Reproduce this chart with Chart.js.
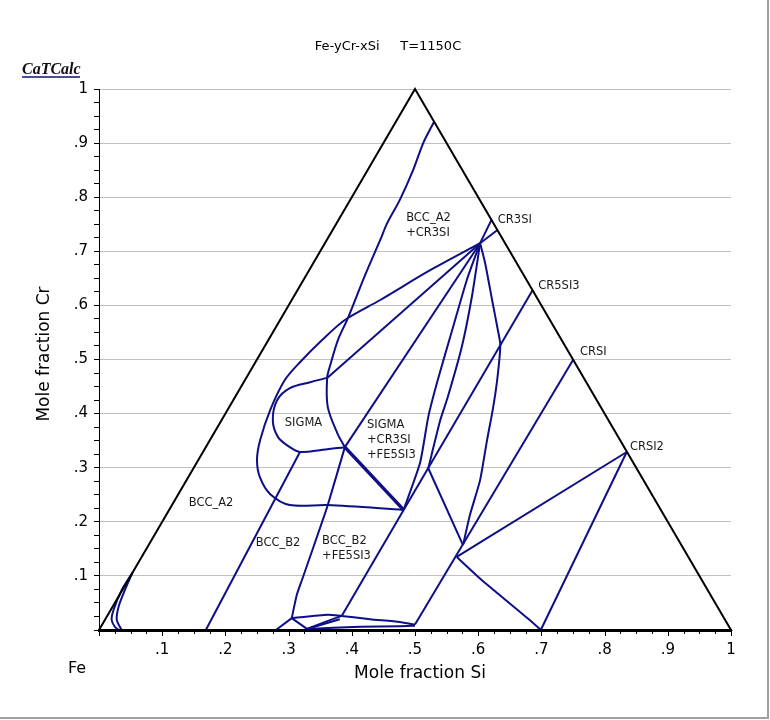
<!DOCTYPE html>
<html>
<head>
<meta charset="utf-8">
<title>Fe-yCr-xSi T=1150C</title>
<script src="https://cdn.jsdelivr.net/npm/chart.js@4/dist/chart.umd.min.js"></script>
<style>
  html, body { margin: 0; padding: 0; background: #fff; }
  #wrap { width: 770px; height: 720px; }
</style>
</head>
<body>
<div id="wrap"><canvas id="phase" width="770" height="720"></canvas></div>
<script>
// Fe-Cr-Si isothermal section, 1150C (CaTCalc style ternary plot)
// every point is [x, y] read on the chart axes: x = Si axis, y = mole fraction Cr

const triangle = [[0, 0], [1, 0], [0.5, 1], [0, 0]];

// small loops next to the Fe corner
const feSideA = [[0.053, 0.106], [0.036, 0.074], [0.023, 0.037], [0.020, 0.019], [0.025, 0.006], [0.031, 0]];
const feSideB = [[0.053, 0.106], [0.041, 0.074], [0.031, 0.043], [0.028, 0.019], [0.033, 0.006], [0.036, 0]];

const bccBoundary = [[0.169, 0], [0.318, 0.329]];

const outerLoop = [[0.603, 0.715], [0.524, 0.665], [0.445, 0.610], [0.389, 0.573], [0.353, 0.536],
  [0.318, 0.495], [0.294, 0.462], [0.271, 0.407], [0.255, 0.351], [0.250, 0.314], [0.255, 0.281],
  [0.271, 0.251], [0.302, 0.231], [0.362, 0.231], [0.482, 0.222]];

const topBoundary = [[0.530, 0.939], [0.513, 0.900], [0.497, 0.850], [0.476, 0.795], [0.456, 0.752],
  [0.445, 0.721], [0.421, 0.656], [0.394, 0.577], [0.378, 0.536], [0.366, 0.490], [0.361, 0.466],
  [0.362, 0.412], [0.377, 0.364], [0.389, 0.338]];

const sigmaLoop = [[0.361, 0.466], [0.334, 0.458], [0.302, 0.447], [0.282, 0.425], [0.275, 0.388],
  [0.283, 0.357], [0.302, 0.338], [0.318, 0.329], [0.354, 0.333], [0.389, 0.338]];

const lowerBoundary = [[0.389, 0.338], [0.362, 0.231], [0.354, 0.203], [0.321, 0.092], [0.313, 0.065], [0.305, 0.022]];

// tie lines meeting near Cr3Si
const cr3siTieA = [[0.621, 0.758], [0.603, 0.715]];
const cr3siTieB = [[0.630, 0.739], [0.603, 0.715]];
const sigmaTieTop = [[0.603, 0.715], [0.361, 0.466]];
const sigmaTie = [[0.603, 0.715], [0.389, 0.338]];
const threePhaseEdge = [[0.389, 0.338], [0.482, 0.222]];

const lineA = [[0.603, 0.715], [0.582, 0.647], [0.559, 0.555], [0.536, 0.462], [0.521, 0.394], [0.508, 0.309], [0.482, 0.222]];
const lineB = [[0.603, 0.715], [0.590, 0.616], [0.574, 0.523], [0.552, 0.431], [0.540, 0.388], [0.521, 0.299]];
const lineC = [[0.603, 0.715], [0.611, 0.678], [0.622, 0.610], [0.631, 0.555], [0.635, 0.527], [0.630, 0.462],
  [0.623, 0.407], [0.614, 0.351], [0.603, 0.277], [0.587, 0.213], [0.576, 0.157]];

const cr5si3Tie = [[0.686, 0.628], [0.482, 0.222]];
const crsiTie = [[0.750, 0.499], [0.500, 0.010]];
const midLink = [[0.521, 0.299], [0.576, 0.157]];
const crsi2TieA = [[0.835, 0.329], [0.566, 0.135]];
const crsi2TieB = [[0.835, 0.329], [0.699, 0]];
const lowerRight = [[0.566, 0.135], [0.606, 0.092], [0.682, 0.018], [0.699, 0]];

// small phase fields along the Fe-Si edge
const j1Left = [[0.305, 0.022], [0.280, 0]];
const j1Right = [[0.305, 0.022], [0.329, 0.002]];
const j1Top = [[0.305, 0.022], [0.362, 0.028], [0.384, 0.026]];
const fe5si3Edge = [[0.482, 0.222], [0.384, 0.026]];
const j3Down = [[0.384, 0.026], [0.358, 0.015], [0.329, 0.002]];
const j3Right = [[0.384, 0.026], [0.429, 0.020], [0.476, 0.015], [0.500, 0.010]];
const j2Right = [[0.329, 0.002], [0.413, 0.006], [0.476, 0.007], [0.500, 0.008]];
const j2Upper = [[0.329, 0.002], [0.381, 0.020]];

const phaseLabels = [
  [['BCC_A2', '+CR3SI'], 0.486, 0.762],
  [['CR3SI'], 0.631, 0.758],
  [['CR5SI3'], 0.695, 0.636],
  [['CRSI'], 0.761, 0.514],
  [['CRSI2'], 0.840, 0.338],
  [['SIGMA'], 0.294, 0.383],
  [['SIGMA', '+CR3SI', '+FE5SI3'], 0.424, 0.379],
  [['BCC_A2'], 0.142, 0.235],
  [['BCC_B2'], 0.248, 0.161],
  [['BCC_B2', '+FE5SI3'], 0.353, 0.165]
];

const NAVY = '#0e0e86';
const isMajor = v => Math.abs(v * 10 - Math.round(v * 10)) < 1e-6;
const tickText = v => {
  if (!isMajor(v) || v < 0.05) return '';
  if (v > 0.95) return '1';
  return '.' + Math.round(v * 10);
};

function curve(points, opts) {
  return Object.assign({
    data: points.map(([x, y]) => ({ x, y })),
    showLine: true,
    borderColor: NAVY,
    borderWidth: 2,
    pointRadius: 0,
    tension: 0,
    clip: false,
    fill: false
  }, opts || {});
}

const decor = {
  id: 'decor',
  afterDraw(chart) {
    const { ctx, chartArea, scales: { x, y } } = chart;
    ctx.save();

    // minor / major ticks under the Si axis
    ctx.strokeStyle = '#000';
    ctx.lineWidth = 1;
    x.ticks.forEach(t => {
      const px = Math.round(x.getPixelForValue(t.value)) + 0.5;
      const len = isMajor(t.value) ? 5 : 3;
      ctx.beginPath();
      ctx.moveTo(px, chartArea.bottom + 1);
      ctx.lineTo(px, chartArea.bottom + 1 + len);
      ctx.stroke();
    });

    ctx.fillStyle = '#000';
    ctx.textBaseline = 'middle';

    ctx.font = '13px "DejaVu Sans"';
    ctx.textAlign = 'center';
    ctx.fillText('Fe-yCr-xSi     T=1150C', 388, 47);

    ctx.font = '17px "DejaVu Sans"';
    ctx.fillText('Mole fraction Si', 420, 674);
    ctx.save();
    ctx.translate(45, 354);
    ctx.rotate(-Math.PI / 2);
    ctx.fillText('Mole fraction Cr', 0, 0);
    ctx.restore();

    ctx.textAlign = 'left';
    ctx.font = '16px "DejaVu Sans"';
    ctx.fillText('Fe', 68, 669);

    // program tag
    ctx.font = 'italic bold 16px "Liberation Serif"';
    ctx.textBaseline = 'alphabetic';
    ctx.fillStyle = '#111';
    ctx.fillText('CaTCalc', 22, 74);
    ctx.fillStyle = '#4c4c9c';
    ctx.fillRect(22, 76, 58, 2);

    // phase field names
    ctx.fillStyle = '#1a1a1a';
    ctx.font = '11.5px "DejaVu Sans"';
    ctx.textBaseline = 'middle';
    phaseLabels.forEach(([lines, lx, ly]) => {
      const px = x.getPixelForValue(lx);
      const py = y.getPixelForValue(ly);
      lines.forEach((s, i) => ctx.fillText(s, px, py + i * 15));
    });

    // window frame
    ctx.strokeStyle = '#a0a0a0';
    ctx.lineWidth = 2;
    ctx.beginPath();
    ctx.moveTo(768, 0);
    ctx.lineTo(768, 718);
    ctx.lineTo(0, 718);
    ctx.stroke();
    ctx.restore();
  }
};

Chart.defaults.font.family = '"DejaVu Sans"';
Chart.defaults.color = '#000';

const ctx = document.getElementById('phase').getContext('2d');
const phaseChart = new Chart(ctx, {
  type: 'scatter',
  data: {
    datasets: [
      curve(triangle, { borderColor: '#000', borderWidth: 2 }),
      curve(feSideA, { tension: 0.3 }),
      curve(feSideB, { tension: 0.3 }),
      curve(bccBoundary),
      curve(outerLoop, { tension: 0.3 }),
      curve(topBoundary, { tension: 0.3 }),
      curve(sigmaLoop, { tension: 0.35 }),
      curve(lowerBoundary, { tension: 0.2 }),
      curve(cr3siTieA),
      curve(cr3siTieB),
      curve(sigmaTieTop),
      curve(sigmaTie),
      curve(threePhaseEdge, { borderWidth: 3.5 }),
      curve(lineA, { tension: 0.2 }),
      curve(lineB, { tension: 0.2 }),
      curve(lineC, { tension: 0.2 }),
      curve(cr5si3Tie),
      curve(crsiTie),
      curve(midLink),
      curve(crsi2TieA),
      curve(crsi2TieB),
      curve(lowerRight, { tension: 0.2 }),
      curve(j1Left),
      curve(j1Right),
      curve(j1Top, { tension: 0.2 }),
      curve(fe5si3Edge),
      curve(j3Down, { tension: 0.2 }),
      curve(j3Right, { tension: 0.2 }),
      curve(j2Right, { tension: 0.2 }),
      curve(j2Upper)
    ]
  },
  options: {
    responsive: false,
    animation: false,
    events: [],
    layout: {
      padding: { left: 0, right: 39, top: 89, bottom: 0 }
    },
    scales: {
      x: {
        type: 'linear',
        min: 0,
        max: 1,
        afterFit: s => { s.height = 90; },
        ticks: {
          stepSize: 0.025,
          autoSkip: false,
          maxRotation: 0,
          padding: 11,
          font: { size: 15 },
          callback: v => tickText(v)
        },
        grid: { display: true, drawOnChartArea: false, drawTicks: false },
        border: { display: true, color: '#000', width: 3 }
      },
      y: {
        type: 'linear',
        min: 0,
        max: 1,
        afterFit: s => { s.width = 99; },
        ticks: {
          stepSize: 0.025,
          autoSkip: false,
          padding: 6,
          font: { size: 15 },
          callback: v => tickText(v)
        },
        grid: {
          drawTicks: true,
          tickLength: 5,
          tickColor: '#000',
          color: c => (isMajor(c.tick.value) ? '#c0c0c0' : 'rgba(0,0,0,0)')
        },
        border: { display: true, color: '#000', width: 1 }
      }
    },
    plugins: {
      legend: { display: false },
      tooltip: { enabled: false },
      title: { display: false }
    }
  },
  plugins: [decor]
});
</script>
</body>
</html>
